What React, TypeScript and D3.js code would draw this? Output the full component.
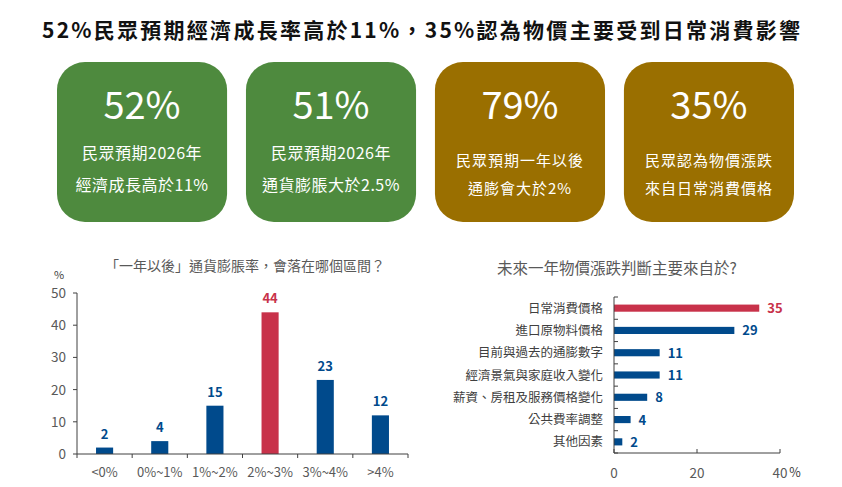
import React from 'react';
import * as d3 from 'd3';

const FONT = '"Noto Sans CJK TC", "Noto Sans", sans-serif';

const pageTitle = '52%民眾預期經濟成長率高於11%，35%認為物價主要受到日常消費影響';

const cardValues = ['52%', '51%', '79%', '35%'];
const cardLine1 = ['民眾預期2026年', '民眾預期2026年', '民眾預期一年以後', '民眾認為物價漲跌'];
const cardLine2 = ['經濟成長高於11%', '通貨膨脹大於2.5%', '通膨會大於2%', '來自日常消費價格'];
const cardColors = ['#4e8a3e', '#4e8a3e', '#9a6f00', '#9a6f00'];

const rangeTitle = '「一年以後」通貨膨脹率，會落在哪個區間？';
const rangeCats = ['<0%', '0%~1%', '1%~2%', '2%~3%', '3%~4%', '>4%'];
const rangeValues = [2, 4, 15, 44, 23, 12];
const rangeTicks = [0, 10, 20, 30, 40, 50];

const sourceTitle = '未來一年物價漲跌判斷主要來自於?';
const sourceCats = [
  '日常消費價格',
  '進口原物料價格',
  '目前與過去的通膨數字',
  '經濟景氣與家庭收入變化',
  '薪資、房租及服務價格變化',
  '公共費率調整',
  '其他因素',
];
const sourceValues = [35, 29, 11, 11, 8, 4, 2];
const sourceTicks = [0, 20, 40];

const BLUE = '#004a8c';
const RED = '#c8324a';
const AXIS = '#404040';
const TEXT = '#595959';

const Cards: React.FC = () => {
  const x = d3.scaleBand<number>().domain(d3.range(4)).range([57, 794]).paddingInner(0.1);
  return (
    <g>
      {cardValues.map((v, i) => {
        const cx = (x(i) ?? 0) + x.bandwidth() / 2;
        const small = i >= 2;
        return (
          <g key={i}>
            <rect x={x(i)} y={62} width={x.bandwidth()} height={160} rx={28} fill={cardColors[i]} />
            <text x={cx} y={119} textAnchor="middle" fill="#fff" fontSize={38} fontFamily={FONT}>
              {v}
            </text>
            <text x={cx} y={small ? 166 : 159} textAnchor="middle" fill="#fff" fontSize={small ? 15 : 16}
              letterSpacing={small ? 1 : 0.5} fontFamily={FONT}>
              {cardLine1[i]}
            </text>
            <text x={cx} y={small ? 194 : 191} textAnchor="middle" fill="#fff" fontSize={small ? 15 : 16}
              letterSpacing={small ? 1 : 0.5} fontFamily={FONT}>
              {cardLine2[i]}
            </text>
          </g>
        );
      })}
    </g>
  );
};

const RangeChart: React.FC = () => {
  const left = 77;
  const right = 408;
  const top = 293;
  const bottom = 454;
  const x = d3.scaleBand<string>().domain(rangeCats).range([left, right]).paddingInner(0.69).paddingOuter(0.345);
  const y = d3.scaleLinear().domain([0, 50]).range([bottom, top]);
  const step = x.step();
  const maxIdx = rangeValues.indexOf(d3.max(rangeValues)!);
  return (
    <g fontFamily={FONT}>
      <text x={245} y={271} textAnchor="middle" fontSize={14} fill={TEXT}>
        {rangeTitle}
      </text>
      <text x={59} y={279} textAnchor="middle" fontSize={11} fill={AXIS}>
        %
      </text>
      {rangeValues.map((v, i) => (
        <g key={i}>
          <rect
            x={x(rangeCats[i])}
            y={y(v)}
            width={x.bandwidth()}
            height={y(0) - y(v)}
            fill={i === maxIdx ? RED : BLUE}
          />
          <text
            x={(x(rangeCats[i]) ?? 0) + x.bandwidth() / 2}
            y={y(v) - 9}
            textAnchor="middle"
            fontSize={13}
            fontWeight="bold"
            fill={i === maxIdx ? RED : BLUE}
          >
            {v}
          </text>
          <text
            x={(x(rangeCats[i]) ?? 0) + x.bandwidth() / 2}
            y={477}
            textAnchor="middle"
            fontSize={13}
            fill={TEXT}
          >
            {rangeCats[i]}
          </text>
        </g>
      ))}
      <line x1={left} x2={left} y1={top} y2={bottom} stroke={AXIS} />
      <line x1={left} x2={right} y1={bottom} y2={bottom} stroke={AXIS} />
      {rangeTicks.map(t => (
        <g key={t}>
          <line x1={left - 4} x2={left} y1={y(t)} y2={y(t)} stroke={AXIS} />
          <text x={left - 11} y={y(t) + 5} textAnchor="end" fontSize={13.5} fill={TEXT}>
            {t}
          </text>
        </g>
      ))}
      {d3.range(rangeCats.length + 1).map(i => (
        <line key={i} x1={left + step * i} x2={left + step * i} y1={bottom} y2={bottom + 4} stroke={AXIS} />
      ))}
    </g>
  );
};

const SourceChart: React.FC = () => {
  const left = 614;
  const right = 780;
  const top = 297;
  const bottom = 453;
  const x = d3.scaleLinear().domain([0, 40]).range([left, right]);
  const y = d3.scaleBand<string>().domain(sourceCats).range([top, bottom]).paddingInner(0.68).paddingOuter(0.34);
  const step = y.step();
  const maxIdx = sourceValues.indexOf(d3.max(sourceValues)!);
  return (
    <g fontFamily={FONT}>
      <text x={617} y={274} textAnchor="middle" fontSize={15.5} fill={TEXT}>
        {sourceTitle}
      </text>
      {sourceValues.map((v, i) => {
        const cy = (y(sourceCats[i]) ?? 0) + y.bandwidth() / 2;
        const color = i === maxIdx ? RED : BLUE;
        return (
          <g key={i}>
            <rect x={left} y={y(sourceCats[i])} width={x(v) - x(0)} height={y.bandwidth()} fill={color} />
            <text x={x(v) + 8} y={cy + 5} fontSize={13} fontWeight="bold" fill={color}>
              {v}
            </text>
            <text x={603} y={cy + 4.5} textAnchor="end" fontSize={12.5} fill={AXIS}>
              {sourceCats[i]}
            </text>
          </g>
        );
      })}
      <line x1={left} x2={left} y1={top} y2={bottom} stroke={AXIS} />
      <line x1={left} x2={right} y1={bottom} y2={bottom} stroke={AXIS} />
      {d3.range(sourceCats.length + 1).map(i => (
        <line key={i} x1={left} x2={left + 4} y1={top + step * i} y2={top + step * i} stroke={AXIS} />
      ))}
      {sourceTicks.map(t => (
        <g key={t}>
          <line x1={x(t)} x2={x(t)} y1={bottom - 4} y2={bottom} stroke={AXIS} />
          <text x={x(t)} y={478} textAnchor="middle" fontSize={13.5} fill={TEXT}>
            {t}
          </text>
        </g>
      ))}
      <text x={795} y={477} textAnchor="middle" fontSize={12.5} fill={AXIS}>
        %
      </text>
    </g>
  );
};

export default function App() {
  return (
    <svg width={842} height={487} style={{ position: 'absolute', left: 0, top: 0, background: '#fff' }}>
      <text x={42} y={38} fontSize={21} fontWeight="bold" fill="#111" fontFamily={FONT}
        textLength={758} lengthAdjust="spacing">
        {pageTitle}
      </text>
      <Cards />
      <RangeChart />
      <SourceChart />
    </svg>
  );
}
